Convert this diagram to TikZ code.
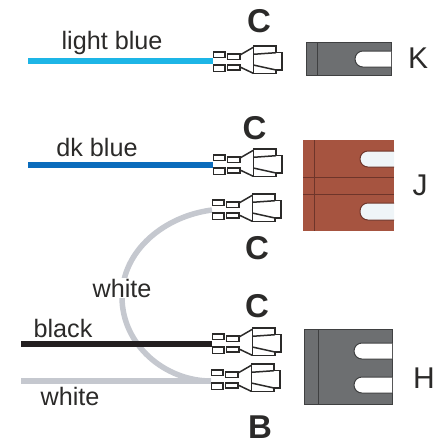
\documentclass[tikz,border=0pt]{standalone}
\usepackage{fontspec}
\setmainfont{Liberation Sans}
\definecolor{lblue}{HTML}{1DB5E6}
\definecolor{dblue}{HTML}{0B6CBC}
\definecolor{wgray}{HTML}{C5C8CF}
\definecolor{blk}{HTML}{231F20}
\definecolor{ink}{HTML}{2B2A29}
\definecolor{rust}{HTML}{A65440}
\definecolor{rustd}{HTML}{6E352A}
\definecolor{slate}{HTML}{6D6F71}
\definecolor{slated}{HTML}{3F4041}
\definecolor{slotw}{HTML}{EFF5F8}
\tikzset{
  x=1pt,y=-1pt,
  wire/.style={line width=#1},
  lab/.style={font=\fontsize{25.2}{25.2}\selectfont,text=ink,inner sep=0pt,anchor=base},
  big/.style={font=\fontsize{33}{33}\selectfont\bfseries,text=ink,inner sep=0pt,anchor=base},
  ltr/.style={font=\fontsize{30}{30}\selectfont,text=ink,inner sep=0pt,anchor=base},
  blockline/.style={draw=slated,line width=1pt},
  slot/.style={fill=white,draw=slated,line width=1pt,rounded corners=7.9pt},
  rustslot/.style={fill=slotw,draw=rustd,line width=1pt,rounded corners=7.9pt},
  term/.pic={
    \draw[line width=1.5pt,ink,fill=white,line join=miter]
      (0.5,-9) rectangle (12,-3.3)
      (0.5,4) rectangle (12,10.7)
      (14.7,-7) rectangle (27,-1.7)
      (14.7,4) rectangle (27,9);
    \draw[line width=1.5pt,ink,fill=white,line join=miter]
      (40.3,-15) -- (63,-15) -- (63,-8.3) -- (69,-8.3) -- (69,9) -- (63,9) -- (63,12.3) -- (40.3,12.3) -- cycle;
    \draw[line width=1.5pt,ink]
      (27,-6) -- (40.3,-13.7) (27,6) -- (40.3,12.3)
      (40.3,-6.7) -- (63,-8.3) (40.3,4) -- (63,9);
  }
}
\begin{document}
\begin{tikzpicture}
\useasboundingbox (0,0) rectangle (443,442);
\coordinate (a1) at (28,61);
\coordinate (a2) at (213,61);
\coordinate (b1) at (28,165);
\coordinate (b2) at (213,165);
\coordinate (c1) at (21,344);
\coordinate (c2) at (212,344);
\coordinate (d1) at (21,381);
\coordinate (d2) at (211,381);
\coordinate (e1) at (212,210);
\draw[wire=5.5pt,lblue] (a1) -- (a2);
\draw[wire=5.5pt,dblue] (b1) -- (b2);
\draw[wire=5.5pt,wgray] (e1) .. controls (165,216) and (122,250) .. (122,297) .. controls (122,345) and (165,381) .. (d2);
\draw[wire=5.5pt,wgray] (d1) -- (d2);
\draw[wire=5.5pt,blk] (c1) -- (c2);
\pic at (a2) {term};
\pic at (213,164) {term};
\pic at (212,209) {term};
\pic at (212,343) {term};
\pic at (211,379) {term};
% K block
\filldraw[fill=slate,blockline] (306,42) rectangle (391,75);
\draw[blockline] (317,42) -- (317,75);
\draw[slot] (391,51) -- (355,51) -- (355,67) -- (391,67);
% J block
\fill[rust] (303,140) rectangle (394,231);
\draw[rustd,line width=1pt] (314,140) -- (314,231) (303,177) -- (394,177) (303,194) -- (394,194);
\draw[rustslot] (394,151) -- (360,151) -- (360,167) -- (394,167);
\draw[rustslot] (394,203) -- (360,203) -- (360,220) -- (394,220);
% H block
\filldraw[fill=slate,blockline] (304,329) rectangle (392,404);
\draw[blockline] (318,329) -- (318,404);
\draw[slot] (392,343) -- (354,343) -- (354,359) -- (392,359);
\draw[slot] (392,377) -- (354,377) -- (354,393) -- (392,393);
\node[lab] (t1) at (112,49) {light blue};
\node[lab] (t2) at (97,156) {dk blue};
\node[lab,fill=white,inner ysep=1pt] (t3) at (122,297) {white};
\node[lab] (t4) at (63,337) {black};
\node[lab] (t5) at (70,405) {white};
\node[big] (c1t) at (259,32.5) {C};
\node[big] (c2t) at (254.5,139.5) {C};
\node[big] (c3t) at (257,259.5) {C};
\node[big] (c4t) at (257,317) {C};
\node[big] (bt) at (260,438) {B};
\node[ltr] (k) at (418,68) {K};
\node[ltr] (j) at (420,195) {J};
\node[ltr] (h) at (424,388) {H};
\end{tikzpicture}
\end{document}
